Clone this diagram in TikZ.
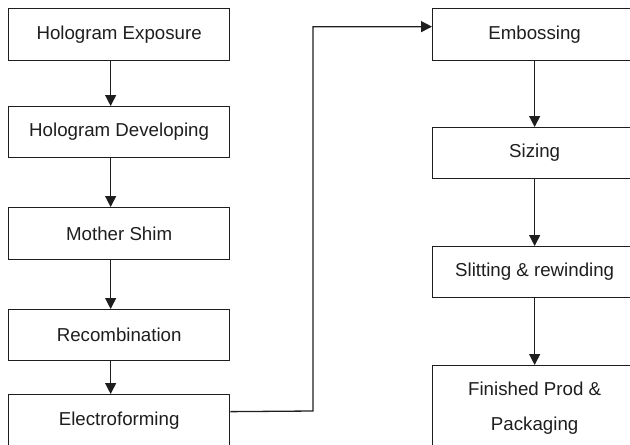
\documentclass[tikz,border=0pt]{standalone}
\usepackage{fontspec}
\setmainfont{Liberation Sans}
\usetikzlibrary{arrows.meta}
\definecolor{ink}{HTML}{1E1E1E}
\begin{document}
\begin{tikzpicture}[x=1pt,y=-1pt,
  box/.style={draw=ink,line width=1.3pt,anchor=north west,inner sep=0pt,
    text=ink,align=center,font=\fontsize{18.7}{35}\selectfont},
  lbox/.style={box,minimum width=221pt,minimum height=52pt},
  rbox/.style={box,minimum width=204pt,minimum height=52pt},
  arr/.style={draw=ink,line width=1.3pt,-{Triangle[length=11pt,width=11pt]}}]
\useasboundingbox (0,0) rectangle (630,445);
\clip (0,0) rectangle (630,445);
\node[lbox] (he) at (8,8) {Hologram Exposure};
\node[lbox,minimum height=51pt] (hd) at (8,106) {Hologram Developing};
\node[lbox] (ms) at (8,207) {Mother Shim};
\node[lbox,minimum height=51pt] (rc) at (8,309) {Recombination};
\node[lbox] (el) at (8,394) {Electroforming};
\node[rbox] (em) at (432,8) {Embossing};
\node[rbox,minimum height=51pt] (sz) at (432,127) {Sizing};
\node[rbox,minimum height=51pt] (sl) at (432,246) {Slitting \& rewinding};
\node[rbox,minimum height=85pt] (fp) at (432,365) {Finished Prod \&\\Packaging};
\draw[arr] ([xshift=-8.5pt]he.south) -- ([xshift=-8.5pt]hd.north);
\draw[arr] ([xshift=-8.5pt]hd.south) -- ([xshift=-8.5pt]ms.north);
\draw[arr] ([xshift=-8.5pt]ms.south) -- ([xshift=-8.5pt]rc.north);
\draw[arr] ([xshift=-8.5pt]rc.south) -- ([xshift=-8.5pt]el.north);
\draw[arr] (em) -- (sz);
\draw[arr] (sz) -- (sl);
\draw[arr] (sl) -- (fp);
\coordinate (turn) at (313,411);
\draw[arr] ([yshift=9pt]el.east) -- (turn) |- ([yshift=8pt]em.west);
\end{tikzpicture}
\end{document}
